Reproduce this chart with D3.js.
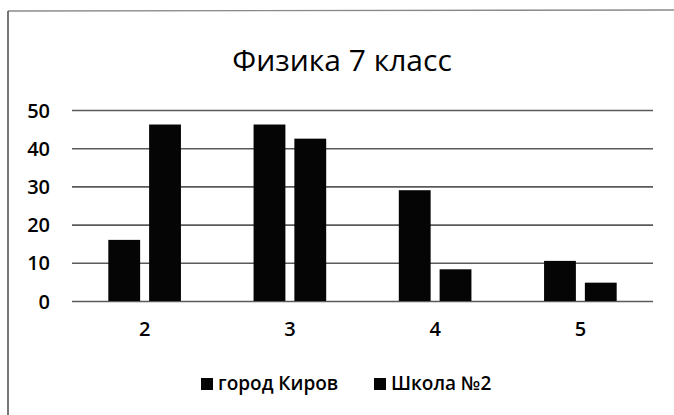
<!DOCTYPE html>
<html>
<head>
<meta charset="utf-8">
<script src="https://cdn.jsdelivr.net/npm/d3@7"></script>
<style>
  html, body { margin: 0; padding: 0; background: #fff; }
  svg { display: block; }
  text { font-family: "Open Sans", "Noto Sans", sans-serif; fill: #000; }
</style>
</head>
<body>
<script>
const title = "Физика 7 класс";
const categories = ["2", "3", "4", "5"];
const seriesNames = ["город Киров", "Школа №2"];
const kirov = [16, 46.2, 29, 10.5];
const school2 = [46.2, 42.5, 8.3, 4.8];
const yTicks = [0, 10, 20, 30, 40, 50];

const W = 674, H = 415;
const svg = d3.select("body").append("svg").attr("width", W).attr("height", H);

// chart border (scanned frame)
svg.append("line").attr("x1", 8).attr("y1", 11).attr("x2", 674).attr("y2", 10)
  .attr("stroke", "#8a8a8a").attr("stroke-width", 1.3);
svg.append("line").attr("x1", 8).attr("y1", 11).attr("x2", 8).attr("y2", 415)
  .attr("stroke", "#555").attr("stroke-width", 1.6);

const x = d3.scaleBand().domain(categories).range([72, 653]).paddingInner(0.5).paddingOuter(0.25);
const xs = d3.scaleBand().domain(seriesNames).range([0, x.bandwidth()]).paddingInner(0.22);
const y = d3.scaleLinear().domain([0, 50]).range([301, 110]);

// gridlines
const yAxis = d3.axisLeft(y).tickValues(yTicks).tickSize(-(653 - 72)).tickPadding(22);
const gy = svg.append("g").attr("transform", "translate(72,0)").call(yAxis);
gy.select(".domain").remove();
gy.selectAll(".tick line").attr("stroke", "#5a5a5a").attr("stroke-width", 1.6);
gy.selectAll(".tick text").attr("font-size", 20).attr("font-weight", 600).attr("dy", "0.35em");

// x axis labels
const xAxis = d3.axisBottom(x).tickSize(0).tickPadding(21);
const gx = svg.append("g").attr("transform", "translate(0,301)").call(xAxis);
gx.select(".domain").remove();
gx.selectAll(".tick text").attr("font-size", 20).attr("font-weight", 600);

// bars
const rows = categories.map((c, i) => ({ c, vals: [kirov[i], school2[i]] }));
const groups = svg.append("g").selectAll("g").data(rows).join("g")
  .attr("transform", d => `translate(${x(d.c)},0)`);
groups.selectAll("rect").data(d => d.vals.map((v, j) => ({ s: seriesNames[j], v })))
  .join("rect")
  .attr("x", d => xs(d.s))
  .attr("width", xs.bandwidth())
  .attr("y", d => y(d.v))
  .attr("height", d => y(0) - y(d.v))
  .attr("fill", "#050505");

// title
svg.append("text").attr("x", 342).attr("y", 71).attr("text-anchor", "middle")
  .attr("font-size", 30).attr("font-weight", 500).text(title);

// legend
const legendX = [201, 374];
const lg = svg.append("g").selectAll("g").data(seriesNames).join("g")
  .attr("transform", (d, i) => `translate(${legendX[i]},0)`);
lg.append("rect").attr("x", 0).attr("y", 378).attr("width", 12).attr("height", 12).attr("fill", "#050505");
lg.append("text").attr("x", 17).attr("y", 390).attr("font-size", 19).attr("font-weight", 600).text(d => d);
</script>
</body>
</html>
